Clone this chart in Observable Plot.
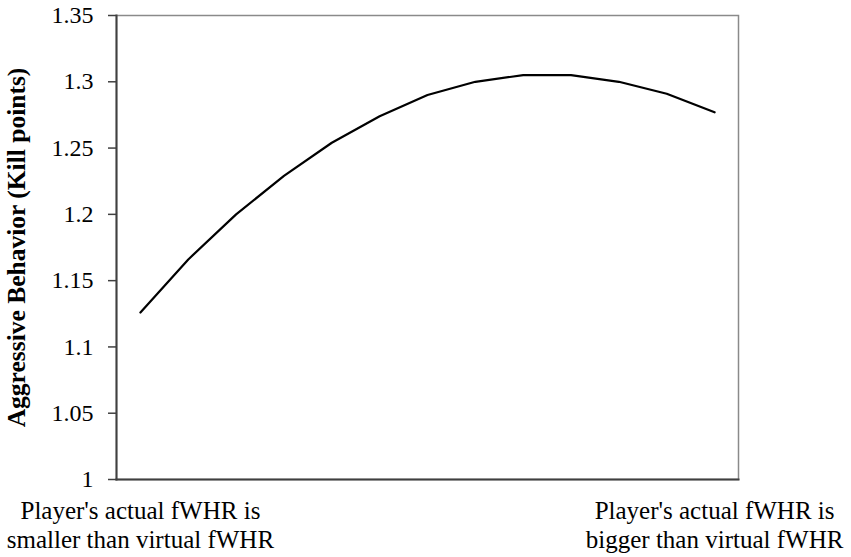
<!DOCTYPE html>
<html>
<head>
<meta charset="utf-8">
<script src="https://cdn.jsdelivr.net/npm/d3@7"></script>
<script src="https://cdn.jsdelivr.net/npm/@observablehq/plot@0.6"></script>
<style>
  html, body { margin: 0; padding: 0; background: #fff; }
  svg { display: block; }
</style>
</head>
<body>
<div id="chart"></div>
<script>
// Data
const steps = [0, 1, 2, 3, 4, 5, 6, 7, 8, 9, 10, 11, 12];
const killPoints = [1.126, 1.166, 1.200, 1.229, 1.254, 1.274, 1.290, 1.300, 1.305, 1.305, 1.300, 1.291, 1.277];
const yTicks = [1, 1.05, 1.1, 1.15, 1.2, 1.25, 1.3, 1.35];
const yTickLabels = ["1", "1.05", "1.1", "1.15", "1.2", "1.25", "1.3", "1.35"];
const xTicks = [0, 12];
const xTickLabels = ["Player's actual fWHR is\nsmaller than virtual fWHR", "Player's actual fWHR is\nbigger than virtual fWHR"];
const yLabel = "Aggressive Behavior (Kill points)";

const data = steps.map((s, i) => ({step: s, value: killPoints[i]}));

const chart = Plot.plot({
  width: 851,
  height: 557,
  marginLeft: 116,
  marginRight: 113,
  marginTop: 15,
  marginBottom: 78,
  style: {fontFamily: "'Liberation Serif', 'Times New Roman', serif", fontSize: "22px", color: "#000", background: "#fff"},
  x: {domain: [-0.5, 12.5]},
  y: {domain: [1, 1.35]},
  marks: [
    Plot.frame({stroke: "#8a8a8a", strokeWidth: 1.5}),
    Plot.frame({anchor: "left", stroke: "#404040", strokeWidth: 2}),
    Plot.frame({anchor: "bottom", stroke: "#404040", strokeWidth: 2}),
    Plot.axisY({
      ticks: yTicks,
      tickFormat: (d) => yTickLabels[yTicks.indexOf(d)],
      tickSize: 8,
      tickPadding: 15,
      fontSize: 24,
      stroke: "#404040",
      strokeWidth: 1.5,
      label: null
    }),
    Plot.axisY({
      ticks: [],
      tickSize: 0,
      label: yLabel,
      labelAnchor: "center",
      labelArrow: "none",
      labelOffset: 110,
      fontSize: 25.5,
      fontWeight: "bold"
    }),
    Plot.axisX({
      ticks: xTicks,
      tickFormat: (d) => xTickLabels[xTicks.indexOf(d)],
      tickSize: 0,
      tickPadding: 19,
      fontSize: 25,
      lineHeight: 1.16,
      label: null
    }),
    Plot.line(data, {x: "step", y: "value", stroke: "#000", strokeWidth: 2.2})
  ]
});
document.getElementById("chart").appendChild(chart);
</script>
</body>
</html>
